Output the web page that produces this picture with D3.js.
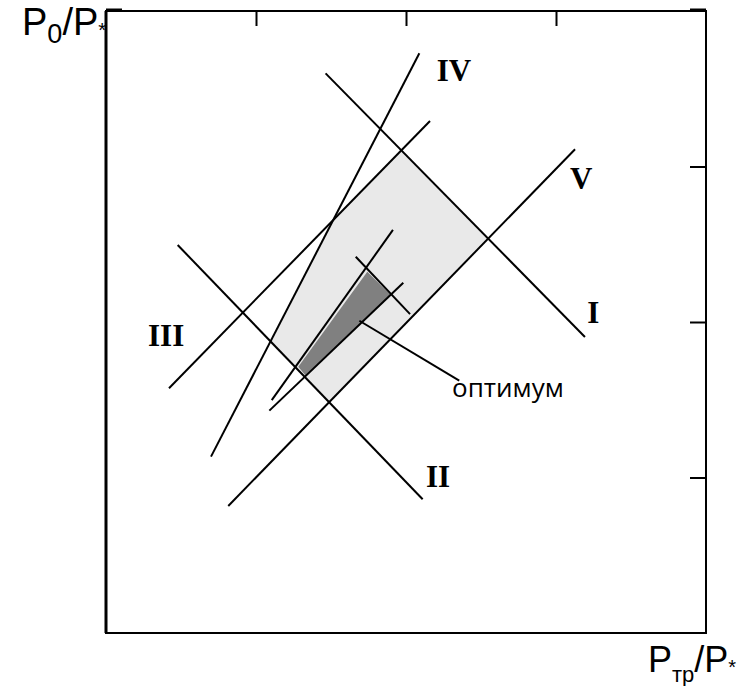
<!DOCTYPE html>
<html>
<head>
<meta charset="utf-8">
<script src="https://cdn.jsdelivr.net/npm/d3@7"></script>
<style>
  html, body { margin: 0; padding: 0; background: #fff; }
  svg { display: block; }
  .roman { font-family: "Liberation Serif", "Times New Roman", serif; font-weight: bold; font-size: 31px; fill: #000; }
  .axlab { font-family: "Liberation Sans", Arial, sans-serif; fill: #000; }
  .note { font-family: "Open Sans", sans-serif; font-size: 26px; fill: #000; }
</style>
</head>
<body>
<svg id="chart" width="754" height="686"></svg>
<script>
// Constraint lines I–V on the (P_тр/P_*, P_0/P_*) plane, as start/end points
const lineNames = ["I", "II", "III", "IV", "V"];
const lineFrom  = [[1.464, 3.599], [0.478, 2.495], [0.420, 1.574], [2.089, 3.728], [3.127, 3.111]];
const lineTo    = [[3.193, 1.904], [2.111, 0.860], [2.160, 3.293], [0.700, 1.134], [0.815, 0.817]];
const labelAt   = [[3.209, 1.994], [2.133, 0.941], [0.280, 1.846], [2.205, 3.552], [3.093, 2.855]];

// Auxiliary lines inside the feasible region
const auxFrom = [[1.913, 2.592], [1.982, 2.253], [1.665, 2.420]];
const auxTo   = [[1.105, 1.498], [1.089, 1.430], [2.027, 2.051]];

// Feasible region and the optimum sub-region
const feasible = [[1.507, 2.643], [1.971, 3.106], [2.549, 2.538], [1.489, 1.487], [1.093, 1.867]];
const optimum  = [[1.742, 2.323], [1.898, 2.174], [1.333, 1.653], [1.282, 1.713]];

// Leader line and caption for the optimum
const leader = [[1.689, 2.008], [2.355, 1.623]];
const optimumText = "оптимум";
const optimumTextAt = [2.307, 1.520];

// Axis ticks (unlabelled)
const xTicks = [1, 2, 3];
const yTicks = [1, 2, 3];

const svg = d3.select("#chart");
const x = d3.scaleLinear().domain([0, 4]).range([106, 706]);
const y = d3.scaleLinear().domain([0, 4]).range([633, 11]);

const line = d3.line().x(d => x(d[0])).y(d => y(d[1]));

// Regions
svg.append("path").attr("d", line(feasible) + "Z").attr("fill", "#e9e9e9");
svg.append("path").attr("d", line(optimum) + "Z").attr("fill", "#808080");

// Frame
svg.append("rect")
  .attr("x", x(0)).attr("y", y(4))
  .attr("width", x(4) - x(0)).attr("height", y(0) - y(4))
  .attr("fill", "none").attr("stroke", "#000").attr("stroke-width", 2);
svg.append("line")
  .attr("x1", x(0)).attr("x2", x(0)).attr("y1", y(4)).attr("y2", y(0))
  .attr("stroke", "#000").attr("stroke-width", 3);

// Top axis ticks pointing inward
const topAxis = d3.axisTop(x).tickValues(xTicks).tickSize(-15).tickFormat("");
const gTop = svg.append("g").attr("transform", `translate(0,${y(4)})`).call(topAxis);
gTop.select(".domain").remove();
gTop.selectAll(".tick line").attr("stroke", "#000").attr("stroke-width", 2);

// Right axis ticks pointing inward
const rightAxis = d3.axisRight(y).tickValues(yTicks).tickSize(-16).tickFormat("");
const gRight = svg.append("g").attr("transform", `translate(${x(4)},0)`).call(rightAxis);
gRight.select(".domain").remove();
gRight.selectAll(".tick line").attr("stroke", "#000").attr("stroke-width", 2);

// Heavier corner ticks at the top of both vertical sides
svg.append("line").attr("x1", x(0)).attr("x2", x(0) + 16).attr("y1", y(4) - 1).attr("y2", y(4) - 1)
  .attr("stroke", "#000").attr("stroke-width", 3);
svg.append("line").attr("x1", x(4) - 16).attr("x2", x(4)).attr("y1", y(4) - 1).attr("y2", y(4) - 1)
  .attr("stroke", "#000").attr("stroke-width", 3);

// Constraint lines
svg.append("g").selectAll("path")
  .data(lineNames.map((n, i) => [lineFrom[i], lineTo[i]]))
  .join("path")
  .attr("d", d => line(d))
  .attr("stroke", "#000").attr("stroke-width", 2).attr("fill", "none");

svg.append("g").selectAll("path")
  .data(auxFrom.map((p, i) => [p, auxTo[i]]))
  .join("path")
  .attr("d", d => line(d))
  .attr("stroke", "#000").attr("stroke-width", 2).attr("fill", "none");

svg.append("path").attr("d", line(leader))
  .attr("stroke", "#000").attr("stroke-width", 2).attr("fill", "none");

// Roman numeral labels
svg.append("g").selectAll("text")
  .data(lineNames)
  .join("text")
  .attr("class", "roman")
  .attr("x", (d, i) => x(labelAt[i][0]))
  .attr("y", (d, i) => y(labelAt[i][1]))
  .text(d => d);

svg.append("text").attr("class", "note")
  .attr("x", x(optimumTextAt[0])).attr("y", y(optimumTextAt[1]))
  .text(optimumText);

// Axis titles
const yTitle = svg.append("text").attr("class", "axlab").attr("x", 22).attr("y", 35);
yTitle.append("tspan").attr("font-size", 38).text("P");
yTitle.append("tspan").attr("font-size", 27).attr("dy", 8).text("0");
yTitle.append("tspan").attr("font-size", 38).attr("dy", -8).text("/P");
yTitle.append("tspan").attr("font-size", 20).attr("dy", 2).text("*");

const xTitle = svg.append("text").attr("class", "axlab").attr("x", 648).attr("y", 672);
xTitle.append("tspan").attr("font-size", 36).text("P");
xTitle.append("tspan").attr("font-size", 22).attr("dy", 10).text("тр");
xTitle.append("tspan").attr("font-size", 36).attr("dy", -10).text("/P");
xTitle.append("tspan").attr("font-size", 20).attr("dy", 2).text("*");
</script>
</body>
</html>
